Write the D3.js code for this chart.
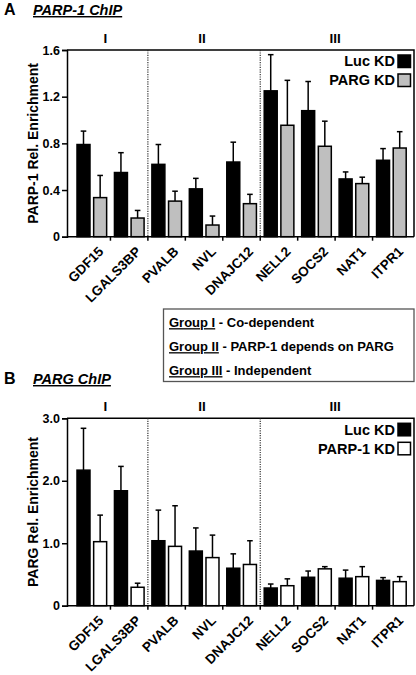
<!DOCTYPE html>
<html><head><meta charset="utf-8">
<script src="https://cdn.jsdelivr.net/npm/d3@7"></script>
<style>
body{margin:0;background:#fff}
svg{display:block}
text{font-family:"Liberation Sans",Arial,sans-serif;font-weight:bold;fill:#000}
</style>
</head><body>
<svg id="chart" width="416" height="675"></svg>
<script>
// ---------- data ----------
const genes = ["GDF15","LGALS3BP","PVALB","NVL","DNAJC12","NELL2","SOCS2","NAT1","ITPR1"];
const groupLabels = ["I","II","III"];
const groupSizes = [2,3,4];

// Panel A: PARP-1 ChIP
const parp1Luc     = [0.79,0.55,0.62,0.41,0.64,1.25,1.08,0.495,0.655];
const parp1LucErr  = [0.115,0.17,0.17,0.09,0.17,0.31,0.25,0.06,0.10];
const parp1Parg    = [0.335,0.16,0.305,0.10,0.283,0.955,0.775,0.455,0.76];
const parp1PargErr = [0.19,0.065,0.085,0.077,0.08,0.385,0.215,0.055,0.14];
const parp1Ticks   = [0,0.4,0.8,1.2,1.6];

// Panel B: PARG ChIP
const pargLuc      = [2.17,1.84,1.04,0.875,0.60,0.283,0.455,0.44,0.405];
const pargLucErr   = [0.67,0.39,0.49,0.37,0.23,0.064,0.10,0.13,0.045];
const pargParp     = [1.025,0.295,0.95,0.77,0.66,0.32,0.59,0.465,0.385];
const pargParpErr  = [0.425,0.065,0.65,0.36,0.38,0.11,0.035,0.16,0.08];
const pargTicks    = [0,1,2,3];

const groupNotes = [
  ["Group I"," - Co-dependent"],
  ["Group II"," - PARP-1 depends on PARG"],
  ["Group III"," - Independent"]
];

// ---------- drawing ----------
const svg = d3.select("#chart");
const FRAME_L = 67, FRAME_R = 414;

function panel(opt){
  const g = svg.append("g");
  const y = d3.scaleLinear().domain([0, opt.max]).range([opt.bottom, opt.top]);
  const x = d3.scaleBand().domain(genes).range([73, 410]).padding(0);
  const xs = d3.scaleBand().domain([0,1]).range([4, x.bandwidth()-3.8]).paddingInner(0.22).paddingOuter(0);

  // panel letter and title
  g.append("text").attr("x", 4).attr("y", opt.titleY).attr("font-size", 16).text(opt.letter);
  g.append("text").attr("x", 33).attr("y", opt.titleY)
    .attr("font-size", 14.5).attr("font-style","italic")
    .attr("text-decoration","underline").text(opt.title);

  // frame (top & right)
  g.append("path")
    .attr("d", `M${FRAME_L},${opt.top}H${FRAME_R}V${opt.bottom}`)
    .attr("fill","none").attr("stroke","#000").attr("stroke-width",1.5);

  // group separators and labels
  let acc = 0;
  const bounds = [FRAME_L];
  groupSizes.forEach((n,i)=>{
    acc += n;
    if (i < groupSizes.length-1) {
      const bx = x(genes[acc]);
      bounds.push(bx);
      g.append("line").attr("x1",bx).attr("x2",bx).attr("y1",opt.top).attr("y2",opt.bottom)
        .attr("stroke","#222").attr("stroke-width",1.1).attr("stroke-dasharray","1.2,1.2");
    }
  });
  bounds.push(FRAME_R);
  groupLabels.forEach((lab,i)=>{
    g.append("text").attr("x",(bounds[i]+bounds[i+1])/2 - 2).attr("y", opt.top - 7)
      .attr("text-anchor","middle").attr("font-size",13.5).text(lab);
  });

  // bars
  const series = [
    {v: opt.s1, e: opt.e1, fill: "#000"},
    {v: opt.s2, e: opt.e2, fill: opt.fill2}
  ];
  series.forEach((s,si)=>{
    genes.forEach((gn,i)=>{
      const bx = x(gn) + xs(si), bw = xs.bandwidth();
      const cx = bx + bw/2;
      const top = y(s.v[i]), etop = y(s.v[i] + s.e[i]);
      g.append("line").attr("x1",cx).attr("x2",cx).attr("y1",top).attr("y2",etop)
        .attr("stroke","#000").attr("stroke-width",1.5);
      g.append("line").attr("x1",cx-2.8).attr("x2",cx+2.8).attr("y1",etop).attr("y2",etop)
        .attr("stroke","#000").attr("stroke-width",1.5);
      g.append("rect").attr("x",bx).attr("y",top).attr("width",bw).attr("height",opt.bottom-top)
        .attr("fill",s.fill).attr("stroke","#000").attr("stroke-width",1.5);
    });
  });

  // y axis
  const ya = g.append("g").attr("transform",`translate(${FRAME_L},0)`)
    .call(d3.axisLeft(y).tickValues(opt.ticks).tickFormat(opt.fmt).tickSize(5).tickPadding(2));
  ya.select(".domain").attr("stroke-width",1.5);
  ya.selectAll(".tick line").attr("stroke-width",1.5);
  ya.selectAll(".tick text").attr("font-size",12.5).attr("font-family",null).attr("font-weight","bold");

  // x axis
  g.append("line").attr("x1",FRAME_L).attr("x2",FRAME_R).attr("y1",opt.bottom).attr("y2",opt.bottom)
    .attr("stroke","#000").attr("stroke-width",1.5);
  genes.slice(1).forEach(gn=>{
    const tx = x(gn);
    g.append("line").attr("x1",tx).attr("x2",tx).attr("y1",opt.bottom).attr("y2",opt.bottom+4)
      .attr("stroke","#000").attr("stroke-width",1.5);
  });
  genes.forEach(gn=>{
    const cx = x(gn) + x.bandwidth()/2;
    g.append("text")
      .attr("transform",`translate(${cx+6},${opt.bottom+9}) rotate(-45)`)
      .attr("text-anchor","end").attr("dy","0.7em").attr("font-size",13.5).text(gn);
  });

  // y title
  g.append("text")
    .attr("transform",`translate(33,${(opt.top+opt.bottom)/2}) rotate(-90)`)
    .attr("text-anchor","middle").attr("dy","0.35em").attr("font-size",14).text(opt.ytitle);

  // legend
  opt.legend.forEach((lab,i)=>{
    const ly = opt.top + 11 + i*19;
    g.append("rect").attr("x",398).attr("y",ly-6).attr("width",12.5).attr("height",12.5)
      .attr("fill", i===0 ? "#000" : opt.fill2).attr("stroke","#000").attr("stroke-width",1.5);
    g.append("text").attr("x",395).attr("y",ly).attr("dy","0.36em")
      .attr("text-anchor","end").attr("font-size",14.5).text(lab);
  });
}

panel({
  letter:"A", title:"PARP-1 ChIP", titleY:15,
  top:50, bottom:236.7, max:1.6, ticks:parp1Ticks, fmt:d=> d===0 ? "0" : d3.format(".1f")(d),
  s1:parp1Luc, e1:parp1LucErr, s2:parp1Parg, e2:parp1PargErr, fill2:"#bfbfbf",
  ytitle:"PARP-1 Rel. Enrichment", legend:["Luc KD","PARG KD"]
});
panel({
  letter:"B", title:"PARG ChIP", titleY:384,
  top:418.3, bottom:605.7, max:3.0, ticks:pargTicks, fmt:d=> d===0 ? "0" : d3.format(".1f")(d),
  s1:pargLuc, e1:pargLucErr, s2:pargParp, e2:pargParpErr, fill2:"#fff",
  ytitle:"PARG Rel. Enrichment", legend:["Luc KD","PARP-1 KD"]
});

// group description box
const box = svg.append("g");
box.append("rect").attr("x",163.5).attr("y",309).attr("width",250.5).attr("height",72.5)
  .attr("fill","#fff").attr("stroke","#555").attr("stroke-width",1.3);
groupNotes.forEach((n,i)=>{
  const t = box.append("text").attr("x",169).attr("y",322.5 + i*24).attr("dy","0.36em").attr("font-size",13);
  t.append("tspan").attr("text-decoration","underline").text(n[0]);
  t.append("tspan").text(n[1]);
});
</script>
</body></html>
